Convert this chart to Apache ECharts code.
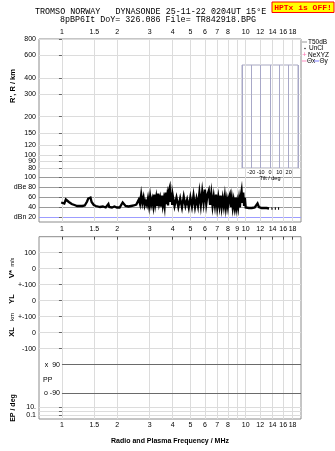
<!DOCTYPE html>
<html><head><meta charset="utf-8">
<script src="https://cdn.jsdelivr.net/npm/echarts@6/dist/echarts.min.js"></script>
<style>html,body{margin:0;padding:0;background:#fff}#c{width:335px;height:451px}</style>
</head><body><div id="c"></div>
<script>
// ---- data ----
const freqTicks = [1,1.5,2,3,4,5,6,7,8,9,10,12,14,16,18];
const freqLabelsOuter = [1,1.5,2,3,4,5,6,7,8,10,12,14,16,18];
const rangeTicks = [800,600,400,300,200,150,120,100,90,80];
const dbTicks = [20,40,60,80,100];
const dbTickLabels = {100:'100',80:'dBe 80',60:'60',40:'40',20:'dBn 20'};
const tiltLabels = [-20,-10,0,10,20];
const lowerRows = [1,2,3,4,5,6,7,10.65,10.92,11.17];
const lowerLabels = ['100','0','+-100','0','+-100','0','-100','10.','','0.1'];
const ppRows = [8, 9.8];
const ppLabels = ['x  90','o -90'];

const noiseFreq = [
 0.99,1.01,1.03,1.05,1.07,1.09,1.11,1.13,1.15,1.17,1.19,1.21,1.23,1.25,1.27,1.29,1.31,1.33,1.35,1.37,1.39,1.41,1.43,1.45,1.47,1.49,1.51,1.53,1.55,1.57,1.59,1.61,1.63,1.65,1.67,1.69,1.71,1.73,1.75,1.77,1.79,1.81,1.83,1.85,1.87,1.89,1.91,1.93,1.95,1.97,1.99,
 2.02,2.06,2.10,2.14,2.18,2.22,2.26,2.30,2.34,2.38,2.42,2.46,2.50,2.54,2.58,2.62,2.66,2.70,2.74,2.78,2.82,2.86,2.90,2.94,2.98,3.02,3.06,3.10,3.14,3.18,3.22,3.26,3.30,3.34,3.38,3.42,3.46,3.50,3.54,3.58,3.62,3.66,3.70,3.74,3.78,3.82,3.86,3.90,3.94,3.98,
 4.0,4.1,4.2,4.3,4.4,4.5,4.6,4.7,4.8,4.9,5.0,5.1,5.2,5.3,5.4,5.5,5.6,5.7,5.8,5.9,6.0,6.1,6.2,6.3,6.4,6.5,6.6,6.7,6.8,6.9,7.0,7.1,7.2,7.3,7.4,7.5,7.6,7.7,7.8,7.9,8.0,8.1,8.2,8.3,8.4,8.5,8.6,8.7,8.8,8.9,9.0,9.1,9.2,9.3,9.4,9.5,9.6,9.7,9.8,9.9,
 10.0,10.2,10.4,10.6,10.8,11.0,11.2,11.4,11.6,11.8,12.0,12.2,12.4,12.6,12.8,13.0,13.2,13.4,13.6,13.8,14.0,14.2,14.4,14.6,14.8,15.0,15.2
];
const noiseDb = [
 50,54,48,56,58,51,55,47,50,45,48,43,47,43,46,43,46,44,48,52,58,54,60,51,48,45,47,43,45,42,44,41,43,40,42,40,42,40,43,40,47,41,40,42,40,42,40,42,40,42,40,
 42,40,43,50,54,43,40,42,40,43,41,44,42,46,43,56,47,66,49,60,44,52,45,58,43,62,46,56,43,66,47,60,43,68,49,58,42,64,45,56,43,70,47,62,44,74,80,51,70,45,
 66,43,60,41,58,40,62,43,56,40,60,42,64,41,58,43,70,45,72,49,76,47,66,74,45,68,43,62,44,66,41,60,43,64,41,58,43,62,40,56,42,60,66,41,58,40,54,41,60,40,52,40,56,40,62,73,49,70,43,60,
 40,39,39,39,39,39,40,44,48,41,39,39,39,39,39,39,38,38,null,38,38,null,38,38,null,38,38
];

// ---- chart ----
const L = Math.log10;
const xMin = L(0.75), xMax = L(20);
const FONT = 'Liberation Sans';
const fmtF = v => String(Math.round(Math.pow(10, v) * 10) / 10);
const fmtR = v => String(Math.round(Math.pow(10, v)));
const gridCol = '#dcdcdc', frameCol = '#8c8c8c';
// split range labels over two stacked axes so close labels (100/90/80) are not culled
const rangeA = rangeTicks.filter((v, i) => i % 2 === 0);
const rangeB = rangeTicks.filter((v, i) => i % 2 === 1);

const chart = echarts.init(document.getElementById('c'), null, {renderer: 'canvas'});
const baseLabel = {fontFamily: FONT, fontSize: 7, color: '#000', hideOverlap: false};

const option = {
  animation: false,
  backgroundColor: '#fff',
  grid: [
    {left: 39, right: 34, top: 39, height: 183, show: true, borderColor: frameCol, borderWidth: 1, backgroundColor: 'transparent'},
    {left: 39, right: 34, top: 177.5, height: 40},
    {left: 39, right: 34, top: 236.7, height: 182.3, show: true, borderColor: frameCol, borderWidth: 1},
    {left: 242, width: 56, top: 65, height: 103, show: true, borderColor: '#a8a8c0', borderWidth: 1, backgroundColor: '#fff'}
  ],
  xAxis: [
    {gridIndex: 0, type: 'value', position: 'top', min: xMin, max: xMax,
     axisLine: {show: false}, axisTick: {show: false, customValues: freqTicks.map(L)},
     axisLabel: Object.assign({customValues: freqLabelsOuter.map(L), formatter: fmtF, margin: 3}, baseLabel),
     splitLine: {show: true, lineStyle: {color: gridCol, width: 1}}},
    {gridIndex: 1, type: 'value', min: xMin, max: xMax, show: false},
    {gridIndex: 2, type: 'value', position: 'top', min: xMin, max: xMax,
     axisLine: {show: false},
     axisTick: {show: true, inside: true, length: 3, customValues: freqTicks.map(L), lineStyle: {color: '#444'}},
     axisLabel: Object.assign({customValues: freqTicks.map(L), formatter: fmtF, margin: 4}, baseLabel),
     splitLine: {show: true, lineStyle: {color: gridCol, width: 1}}},
    {gridIndex: 2, type: 'value', position: 'bottom', min: xMin, max: xMax,
     axisLine: {show: false}, axisTick: {show: false},
     axisLabel: Object.assign({customValues: freqLabelsOuter.map(L), formatter: fmtF, margin: 3}, baseLabel),
     splitLine: {show: false},
     name: 'Radio and Plasma Frequency / MHz', nameLocation: 'middle', nameGap: 19,
     nameTextStyle: {fontFamily: FONT, fontSize: 7, fontWeight: 'bold', color: '#000'}},
    {gridIndex: 3, type: 'value', min: -30, max: 30, interval: 10,
     axisLine: {show: false}, axisTick: {show: false},
     axisLabel: {customValues: tiltLabels, fontFamily: FONT, fontSize: 5.5, color: '#000', margin: 1, hideOverlap: false},
     splitLine: {show: true, lineStyle: {color: '#a8a8c8', width: 1}},
     name: 'Tilt / deg', nameLocation: 'middle', nameGap: 7,
     nameTextStyle: {fontFamily: FONT, fontSize: 5.5, color: '#000'}}
  ],
  yAxis: [
    {gridIndex: 0, type: 'value', position: 'left', min: L(30.5), max: L(800),
     axisLine: {show: false},
     axisTick: {show: true, length: 3, customValues: rangeTicks.map(L), lineStyle: {color: '#666'}},
     axisLabel: Object.assign({customValues: rangeA.map(L), formatter: fmtR, margin: 3}, baseLabel),
     splitLine: {show: true, lineStyle: {color: gridCol, width: 1}}},
    {gridIndex: 1, type: 'value', min: 20, max: 100, interval: 20,
     axisLine: {show: false},
     axisTick: {show: true, length: 3, lineStyle: {color: '#666'}},
     axisLabel: Object.assign({formatter: v => dbTickLabels[v] || '', margin: 3}, baseLabel),
     splitLine: {show: true, lineStyle: {color: ['#9c9cff', '#9a9a9a', '#9a9a9a', '#9a9a9a', '#9a9a9a'], width: 1}}},
    {gridIndex: 2, type: 'value', min: 0, max: 11.39, inverse: true,
     axisLine: {show: false},
     axisTick: {show: true, length: 3, customValues: lowerRows, lineStyle: {color: '#666'}},
     axisLabel: Object.assign({customValues: lowerRows, margin: 3,
       formatter: v => { const i = lowerRows.findIndex(r => Math.abs(r - v) < 1e-6); return i >= 0 ? lowerLabels[i] : ''; }}, baseLabel),
     splitLine: {show: true, lineStyle: {color: gridCol, width: 1}}},
    {gridIndex: 3, type: 'value', min: 0, max: 1, show: false},
    {gridIndex: 0, type: 'value', position: 'left', offset: 0, min: L(30.5), max: L(800),
     axisLine: {show: false},
     axisTick: {show: false, customValues: rangeB.map(L)},
     axisLabel: Object.assign({customValues: rangeB.map(L), formatter: fmtR, margin: 3}, baseLabel),
     splitLine: {show: false}}
  ],
  series: [
    {type: 'line', xAxisIndex: 1, yAxisIndex: 1, showSymbol: false, connectNulls: false,
     data: noiseFreq.map((f, i) => [L(f), noiseDb[i]]),
     lineStyle: {color: '#000', width: 2.3, join: 'miter'}, itemStyle: {color: '#000'}, silent: true, clip: true},
    {type: 'line', xAxisIndex: 2, yAxisIndex: 2, data: [], silent: true,
     markLine: {symbol: 'none', silent: true, animation: false,
       lineStyle: {color: '#6a6a6a', width: 1, type: 'solid'},
       label: {show: true, position: 'start', distance: 2, fontFamily: FONT, fontSize: 7, color: '#000', formatter: p => p.name},
       data: ppRows.map((r, i) => [{coord: [L(1), r], name: ppLabels[i]}, {coord: [xMax, r]}])}}
  ],
  graphic: [
    {type: 'text', x: 35, y: 12, style: {text: 'TROMSO NORWAY   DYNASONDE 25-11-22 0204UT 15°E', font: '8.4px "Liberation Mono"', fill: '#000', verticalAlign: 'middle'}},
    {type: 'text', x: 60, y: 20, style: {text: '8pBP6It DoY= 326.086 File= TR842918.BPG', font: '8.4px "Liberation Mono"', fill: '#000', verticalAlign: 'middle'}},
    {type: 'rect', shape: {x: 272, y: 2, width: 62, height: 10.5}, style: {fill: '#ffff00', stroke: '#ff0000', lineWidth: 1}},
    {type: 'text', x: 303, y: 7.5, style: {text: 'HPTx is OFF!', font: 'bold 8px "Liberation Mono"', fill: '#ff0000', align: 'center', verticalAlign: 'middle'}},
    // legend
    {type: 'line', shape: {x1: 302, y1: 42, x2: 307, y2: 42}, style: {stroke: '#999', lineWidth: 1}},
    {type: 'text', x: 308, y: 42, style: {text: 'T50dB', font: '6.5px "Liberation Sans"', fill: '#000', verticalAlign: 'middle'}},
    {type: 'circle', shape: {cx: 305, cy: 48.5, r: 0.7}, style: {fill: '#000'}},
    {type: 'text', x: 309, y: 48.5, style: {text: 'UnCl', font: '6.5px "Liberation Sans"', fill: '#000', verticalAlign: 'middle'}},
    {type: 'text', x: 304.5, y: 54.8, style: {text: '+', font: '7.5px "Liberation Sans"', fill: '#ff6fb0', align: 'center', verticalAlign: 'middle'}},
    {type: 'text', x: 308, y: 54.8, style: {text: 'NeXYZ', font: '6.5px "Liberation Sans"', fill: '#000', verticalAlign: 'middle'}},
    {type: 'line', shape: {x1: 302, y1: 61, x2: 306.5, y2: 61}, style: {stroke: '#ff8cc0', lineWidth: 1}},
    {type: 'text', x: 307, y: 61, style: {text: 'Θx', font: '6.5px "Liberation Sans"', fill: '#000', verticalAlign: 'middle'}},
    {type: 'line', shape: {x1: 314, y1: 61, x2: 319, y2: 61}, style: {stroke: '#8080ff', lineWidth: 1}},
    {type: 'text', x: 319.5, y: 61, style: {text: 'Θy', font: '6.5px "Liberation Sans"', fill: '#000', verticalAlign: 'middle'}},
    // axis titles
    {type: 'text', x: 13, y: 86, rotation: Math.PI / 2, style: {text: "R', R / km", font: 'bold 7.5px "Liberation Sans"', fill: '#000', align: 'center', verticalAlign: 'middle'}},
    {type: 'text', x: 12, y: 268, rotation: Math.PI / 2, style: {text: '{a|V*} {b|m/s}', rich: {a: {fontFamily: FONT, fontSize: 8, fontWeight: 'bold', fill: '#000'}, b: {fontFamily: FONT, fontSize: 5.5, fill: '#000'}}, align: 'center', verticalAlign: 'middle'}},
    {type: 'text', x: 12, y: 299, rotation: Math.PI / 2, style: {text: 'YL', font: 'bold 7.5px "Liberation Sans"', fill: '#000', align: 'center', verticalAlign: 'middle'}},
    {type: 'text', x: 12, y: 317, rotation: Math.PI / 2, style: {text: 'km', font: '6px "Liberation Sans"', fill: '#000', align: 'center', verticalAlign: 'middle'}},
    {type: 'text', x: 12, y: 332, rotation: Math.PI / 2, style: {text: 'XL', font: 'bold 7.5px "Liberation Sans"', fill: '#000', align: 'center', verticalAlign: 'middle'}},
    {type: 'text', x: 13, y: 408, rotation: Math.PI / 2, style: {text: 'EP / deg', font: 'bold 7px "Liberation Sans"', fill: '#000', align: 'center', verticalAlign: 'middle'}},
    {type: 'text', x: 43, y: 380, style: {text: 'PP', font: '7px "Liberation Sans"', fill: '#000', verticalAlign: 'middle'}}
  ]
};
chart.setOption(option);
</script>
</body></html>
